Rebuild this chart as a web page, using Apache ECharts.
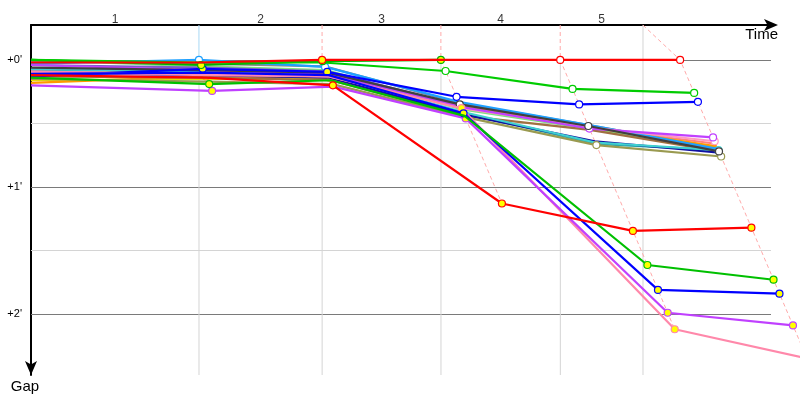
<!DOCTYPE html>
<html><head><meta charset="utf-8">
<script src="https://cdn.jsdelivr.net/npm/echarts@6/dist/echarts.min.js"></script>
<style>html,body{margin:0;padding:0;background:#fff}#c{width:800px;height:400px}</style>
</head><body><div id="c"></div>
<script>
// ---- data ----
const lapLabels = ['1', '2', '3', '4', '5'];
const lapTimes = [0, 3.11, 5.39, 7.59, 9.80, 12.02];   // leader time at each lap (min)
const currentTime = 11.33;
const timeMax = 13.70;        // end of the visible time axis
const timeMaxData = 14.24;    // extent of the data area (to the right edge of the chart)
const gapMin = -0.275, gapMax = 2.48;
const gapLines = [0, 0.5, 1, 1.5, 2];

// gaps (min) at start, lap1..lap5 ; markers: '.' none, 'w' white, 'y' yellow
const gapsGray      = [0.01, 0.03, 0.05, 0.34, 0.51, 0.70];
const gapsLightGrn  = [0.00, 0.05, 0.08, 0.39, 0.54, 0.71];
const gapsViolet    = [0.04, 0.06, 0.09, 0.36, 0.52, 0.70];
const gapsTeal      = [0.08, 0.09, 0.11, 0.42, 0.66, 0.71];
const gapsSalmon    = [0.10, 0.10, 0.12, 0.36, 0.53, 0.66];
const gapsYellow    = [0.16, 0.15, 0.15, 0.37, 0.52, 0.69];
const gapsOrange    = [0.18, 0.13, 0.14, 0.37, 0.53, 0.68];
const gapsBrown     = [0.13, 0.14, 0.16, 0.44, 0.55, 0.72];
const gapsNavy      = [0.10, 0.12, 0.14, 0.43, 0.64, 0.73];
const gapsCyan      = [0.07, 0.09, 0.12, 0.41, 0.65, 0.71];
const gapsOlive     = [0.15, 0.17, 0.19, 0.45, 0.67, 0.76];
const gapsLightBlue = [0.03, 0.00, 0.055, 0.33, 0.51, 0.70];
const gapsPinkUp    = [0.10, 0.11, 0.13, 0.38, 0.53, 0.64];
const gapsPurpleUp  = [0.04, 0.08, 0.11, 0.37, 0.54, 0.61];
const gapsDark      = [0.06, 0.08, 0.10, 0.35, 0.52, 0.72];
const gapsBlueUp    = [0.13, 0.07, 0.094, 0.29, 0.35, 0.33];
const gapsGreen1    = [0.00, 0.04, 0.01, 0.00, null, null];
const gapsGreen2    = [0.00, 0.02, 0.02, 0.087, 0.228, 0.26];
const gapsRedA      = [0.02, 0.02, 0.00, 0.00, 0.00, 0.00];
const gapsPinkF     = [0.09, 0.12, 0.13, 0.38, 2.12, 2.35];
const gapsPurpleE   = [0.20, 0.244, 0.21, 0.46, 1.99, 2.09];
const gapsBlueD     = [0.11, 0.10, 0.12, 0.42, 1.81, 1.84];
const gapsGreenC    = [0.14, 0.19, 0.16, 0.44, 1.614, 1.73];
const gapsRedB      = [0.12, 0.14, 0.20, 1.13, 1.346, 1.32];

const drivers = [
  ['Gray', '#8c8c8c', gapsGray, '......'],
  ['LightGreen', '#7fe07f', gapsLightGrn, '......'],
  ['Violet', '#7a5cc8', gapsViolet, '......'],
  ['Teal', '#2aa8a8', gapsTeal, '......'],
  ['Salmon', '#ff8080', gapsSalmon, '......'],
  ['Yellow', '#e8e000', gapsYellow, '......'],
  ['Orange', '#ff9900', gapsOrange, '.yy...'],
  ['Brown', '#a07040', gapsBrown, '......'],
  ['Navy', '#1010a0', gapsNavy, '......'],
  ['Cyan', '#40d0d0', gapsCyan, '.....w'],
  ['Olive', '#9a9a50', gapsOlive, '....ww'],
  ['LightBlue', '#1ea0ff', gapsLightBlue, '.ww...'],
  ['PinkUp', '#ff99c0', gapsPinkUp, '.....w'],
  ['PurpleUp', '#c040ff', gapsPurpleUp, '....ww'],
  ['Dark', '#404040', gapsDark, '...www'],
  ['BlueUp', '#0000ff', gapsBlueUp, '.yywww'],
  ['Green1', '#00b000', gapsGreen1, '.yyy..'],
  ['Green2', '#00cc00', gapsGreen2, '...www'],
  ['RedA', '#ff0000', gapsRedA, '..y.ww'],
  ['PinkF', '#ff88aa', gapsPinkF, '...yy.'],
  ['PurpleE', '#c040ff', gapsPurpleE, '.y.yyy'],
  ['BlueD', '#0000ff', gapsBlueD, '...yyy'],
  ['GreenC', '#00c000', gapsGreenC, '.y..yy'],
  ['RedB', '#ff0000', gapsRedB, '..yyyy']
];

// ---- build ----
const series = [];
const base = { animation: false, silent: true, symbol: 'none' };
// horizontal grid lines (grid 0)
series.push({ ...base, type: 'line', data: [], z: 1,
  markLine: { silent: true, symbol: 'none', label: { show: false }, animation: false, z: 1,
    data: gapLines.map(g => ({ yAxis: g, lineStyle: { color: Number.isInteger(g) ? '#7a7a7a' : '#d4d4d4', width: 1, type: 'solid' } })) } });
// vertical lap gridlines
lapTimes.slice(1, 5).forEach(t => {
  series.push({ ...base, type: 'line', z: 1, data: [[t, 0], [t, gapMax]], lineStyle: { color: '#d4d4d4', width: 1 } });
});
series.push({ ...base, type: 'line', z: 1, data: [[currentTime, gapMin], [currentTime, gapMax]], lineStyle: { color: '#d4d4d4', width: 1 } });

// lap labels above the time axis
series.push({ type: 'scatter', symbolSize: 0, silent: true, clip: false, z: 5, animation: false,
  data: lapLabels.map((l, i) => {
    const end = i === 4 ? currentTime : lapTimes[i + 1];
    return [(lapTimes[i] + end) / 2, gapMin];
  }),
  label: { show: true, position: 'top', distance: -1, color: '#000', fontSize: 12,
    fontFamily: 'Liberation Sans, Arial', formatter: p => lapLabels[p.dataIndex] } });

// lap crossing lines (grid 1, wider area so nothing is cut at the axis end)
for (let k = 1; k <= 5; k++) {
  let gmax = 0;
  drivers.forEach(d => { const g = d[2][k]; if (g != null && g > gmax) gmax = g; });
  const top = k === 5 ? currentTime : lapTimes[k];
  series.push({ ...base, type: 'line', z: 2, xAxisIndex: 1, yAxisIndex: 1,
    data: [[top, gapMin], [lapTimes[k], 0], [lapTimes[k] + gmax, gmax]],
    lineStyle: k === 1 ? { color: '#a8d8f4', width: 1, type: 'solid' } : { color: '#ffaaaa', width: 1, type: [4, 3] } });
}

drivers.forEach(([name, color, g, marks], idx) => {
  const data = [];
  for (let k = 0; k < g.length; k++) {
    if (g[k] == null) continue;
    const t = k === 0 ? 0 : lapTimes[k] + g[k];
    const item = { value: [t, g[k]] };
    const m = marks[k];
    if (m === 'w' || m === 'y') {
      item.symbol = 'circle';
      item.symbolSize = 7;
      item.itemStyle = { color: m === 'w' ? '#ffffff' : '#ffff00', borderColor: color, borderWidth: 1.2 };
    }
    data.push(item);
  }
  series.push({ type: 'line', name, data, symbol: 'none', z: 3 + idx * 0.01, xAxisIndex: 1, yAxisIndex: 1,
    lineStyle: { color, width: 2.2 }, itemStyle: { color }, animation: false });
});

const axisFont = 'Liberation Sans, Arial';
const chart = echarts.init(document.getElementById('c'), null, { renderer: 'canvas' });
chart.setOption({
  animation: false,
  backgroundColor: '#ffffff',
  grid: [
    { left: 31, right: 29, top: 25, bottom: 25 },
    { left: 31, right: 0, top: 25, bottom: 25 }
  ],
  xAxis: [{
    gridIndex: 0, type: 'value', position: 'top', min: 0, max: timeMax,
    axisLine: { show: true, onZero: false, symbol: ['none', 'arrow'], symbolSize: [9, 14], symbolOffset: [0, 7],
      lineStyle: { color: '#000', width: 2 } },
    axisTick: { show: false }, axisLabel: { show: false }, splitLine: { show: false },
    name: 'Time', nameLocation: 'end', nameGap: 7,
    nameTextStyle: { color: '#000', fontSize: 15, fontFamily: axisFont, align: 'right', verticalAlign: 'top', padding: [2, 0, 0, 0] }
  }, {
    gridIndex: 1, type: 'value', min: 0, max: timeMaxData, show: false
  }],
  yAxis: [{
    gridIndex: 0, type: 'value', inverse: true, min: gapMin, max: gapMax, splitNumber: 5,
    axisLine: { show: true, onZero: false, symbol: ['arrow', 'none'], symbolSize: [9, 14], symbolOffset: [0, 0],
      lineStyle: { color: '#000', width: 2 } },
    axisTick: { show: false }, splitLine: { show: false },
    axisLabel: { color: '#000', fontSize: 11, fontFamily: axisFont, margin: 9,
      formatter: v => (Math.abs(v - Math.round(v)) < 1e-6 && v >= 0) ? '+' + Math.round(v) + "'" : '' },
    name: 'Gap', nameLocation: 'end', nameGap: 4,
    nameTextStyle: { color: '#000', fontSize: 15, fontFamily: axisFont, padding: [0, 12, 0, 0] }
  }, {
    gridIndex: 1, type: 'value', inverse: true, min: gapMin, max: gapMax, show: false
  }],
  series
});
</script></body></html>
